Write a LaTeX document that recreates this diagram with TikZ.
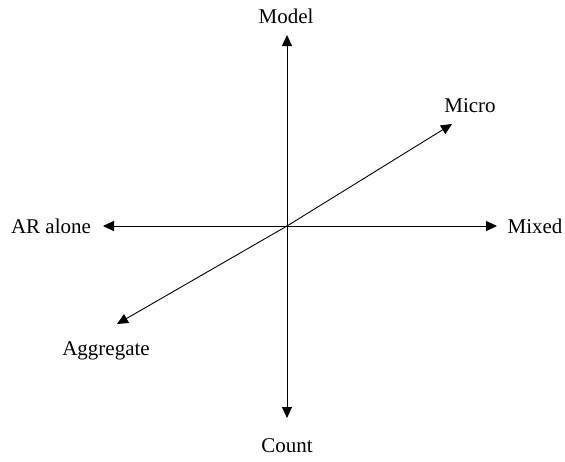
\documentclass[tikz,border=0pt]{standalone}
\usepackage{fontspec}
\setmainfont{Liberation Serif}
\usetikzlibrary{arrows.meta}
\begin{document}
\begin{tikzpicture}[x=1pt,y=-1pt,
  axis/.style={draw=black,line width=0.9pt,-{Triangle[length=11pt,width=10pt]}},
  lbl/.style={font=\fontsize{21}{24}\selectfont,inner sep=0pt}]
\useasboundingbox (0,0) rectangle (565,461);
\coordinate (O) at (287,226);
\coordinate (top) at (287,35);
\coordinate (bot) at (287,418);
\coordinate (lft) at (103,226);
\coordinate (rgt) at (497,226);
\coordinate (mic) at (452,124);
\coordinate (agg) at (117,324);
\draw[axis] (O) -- (top);
\draw[axis] (O) -- (bot);
\draw[axis] (O) -- (lft);
\draw[axis] (O) -- (rgt);
\draw[axis] (O) -- (mic);
\draw[axis] (O) -- (agg);
\node[lbl] (model) at (286,16) {Model};
\node[lbl] (count) at (287,446) {Count};
\node[lbl] (ar) at (51,226) {AR alone};
\node[lbl] (mixed) at (535,226) {Mixed};
\node[lbl] (micro) at (470,106) {Micro};
\node[lbl] (aggr) at (106,351) {Aggregate};
\end{tikzpicture}
\end{document}
